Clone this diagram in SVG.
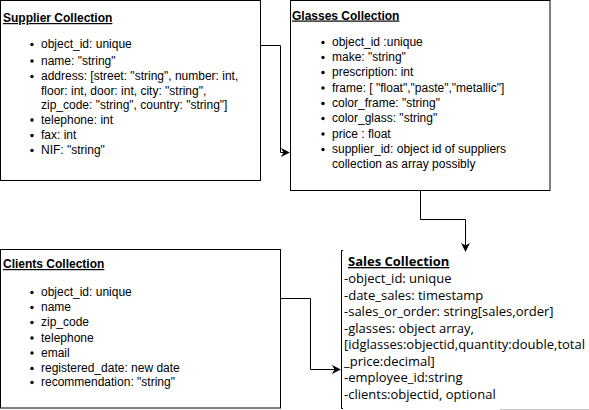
<svg xmlns="http://www.w3.org/2000/svg" width="589" height="410" viewBox="0 0 589 410">
<style>
.box{fill:#fff;stroke:#000;stroke-width:1}
.t{font-family:"Liberation Sans",Arial,sans-serif;font-size:12px;fill:#000}
.h{font-family:"Liberation Sans",Arial,sans-serif;font-size:12px;font-weight:bold;text-decoration:underline;fill:#000}
.s{font-family:"Open Sans","Noto Sans",sans-serif;font-size:13px;fill:#000}
.sh{font-family:"Open Sans","Noto Sans",sans-serif;font-size:13px;font-weight:bold;text-decoration:underline;fill:#000}
.c{fill:none;stroke:#000;stroke-width:1}
</style>
<defs>
<marker id="ah" viewBox="0 0 10 10" refX="9" refY="5" markerWidth="9" markerHeight="9" markerUnits="userSpaceOnUse" orient="auto">
<path d="M0,0 L10,5 L0,10 L3,5 Z" fill="#000"/>
</marker>
</defs>
<rect width="589" height="410" fill="#fff"/>
<g id="connectors">
<path class="c" d="M260.5,45.5 H280.5 V152.5 H289" marker-end="url(#ah)"/>
<path class="c" d="M420.5,190.5 V219.5 H465.5 V251" marker-end="url(#ah)"/>
<path class="c" d="M280.5,298.5 H310.5 V369.5 H340" marker-end="url(#ah)"/>
</g>
<g id="supplier">
<rect class="box" x="0.5" y="0.5" width="260" height="180"/>
<text class="h" x="3" y="22">Supplier Collection</text>
<g fill="#000">
<circle cx="32" cy="44.5" r="1.7"/><circle cx="32" cy="61" r="1.7"/><circle cx="32" cy="76.5" r="1.7"/>
<circle cx="32" cy="120" r="1.7"/><circle cx="32" cy="135.5" r="1.7"/><circle cx="32" cy="150.5" r="1.7"/>
</g>
<text class="t" x="41" y="48">object_id: unique</text>
<text class="t" x="41" y="64.5">name: "string"</text>
<text class="t" x="41" y="80">address: [street: "string", number: int,</text>
<text class="t" x="41" y="94.5">floor: int, door: int, city: "string",</text>
<text class="t" x="41" y="109">zip_code: "string", country: "string"]</text>
<text class="t" x="41" y="124">telephone: int</text>
<text class="t" x="41" y="139">fax: int</text>
<text class="t" x="41" y="154">NIF: "string"</text>
</g>
<g id="glasses">
<rect class="box" x="290.5" y="0.5" width="259.5" height="190"/>
<text class="h" x="292" y="19.5">Glasses Collection</text>
<g fill="#000">
<circle cx="323" cy="42.5" r="1.7"/><circle cx="323" cy="57.5" r="1.7"/><circle cx="323" cy="72.5" r="1.7"/>
<circle cx="323" cy="88" r="1.7"/><circle cx="323" cy="103.5" r="1.7"/><circle cx="323" cy="118.5" r="1.7"/>
<circle cx="323" cy="134" r="1.7"/><circle cx="323" cy="149.5" r="1.7"/>
</g>
<text class="t" x="332" y="46">object_id :unique</text>
<text class="t" x="332" y="61">make: "string"</text>
<text class="t" x="332" y="76">prescription: int</text>
<text class="t" x="332" y="91.5">frame: [ "float","paste","metallic"]</text>
<text class="t" x="332" y="107">color_frame: "string"</text>
<text class="t" x="332" y="122">color_glass: "string"</text>
<text class="t" x="332" y="137.5">price : float</text>
<text class="t" x="332" y="153">supplier_id: object id of suppliers</text>
<text class="t" x="332" y="167.5">collection as array possibly</text>
</g>
<g id="clients">
<rect class="box" x="0.5" y="249.5" width="280" height="158.5"/>
<text class="h" x="3" y="268">Clients Collection</text>
<g fill="#000">
<circle cx="32" cy="292.5" r="1.7"/><circle cx="32" cy="307.5" r="1.7"/><circle cx="32" cy="322.5" r="1.7"/>
<circle cx="32" cy="338" r="1.7"/><circle cx="32" cy="353" r="1.7"/><circle cx="32" cy="368.5" r="1.7"/>
<circle cx="32" cy="382.5" r="1.7"/>
</g>
<text class="t" x="41" y="296">object_id: unique</text>
<text class="t" x="41" y="311">name</text>
<text class="t" x="41" y="326">zip_code</text>
<text class="t" x="41" y="341.5">telephone</text>
<text class="t" x="41" y="356.5">email</text>
<text class="t" x="41" y="372">registered_date: new date</text>
<text class="t" x="41" y="386">recommendation: "string"</text>
</g>
<g id="sales">
<path class="c" d="M343,250.5 H341.5 V408.5 H343"/>
<text class="sh" x="348" y="266">Sales Collection</text>
<text class="s" x="344" y="283">-object_id: unique</text>
<text class="s" x="344" y="299.5">-date_sales: timestamp</text>
<text class="s" x="344" y="316">-sales_or_order: string[sales,order]</text>
<text class="s" x="344" y="332.5">-glasses: object array,</text>
<text class="s" x="344" y="349">[idglasses:objectid,quantity:double,total</text>
<text class="s" x="344" y="365.5">_price:decimal]</text>
<text class="s" x="344" y="382">-employee_id:string</text>
<text class="s" x="344" y="398.5">-clients:objectid, optional</text>
<path d="M500,409.5 H589" stroke="#c8c8c8" stroke-width="1"/>
</g>
</svg>
